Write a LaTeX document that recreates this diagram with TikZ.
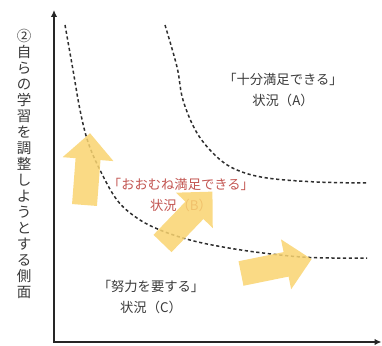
\documentclass[tikz,border=0pt]{standalone}
\usepackage{fontspec}
\setmainfont{Noto Sans CJK JP}
\usetikzlibrary{arrows.meta}
\definecolor{txt}{HTML}{3A3A3A}
\definecolor{redtxt}{HTML}{C25450}
\definecolor{yarr}{RGB}{249,212,112}
\definecolor{curve}{HTML}{2E2E2E}
\tikzset{
  axis/.style={line width=2.4pt, draw=black!85, {Latex[length=7pt,width=6.5pt]}-{Latex[length=7pt,width=6.5pt]}},
  bound/.style={draw=curve, line width=1.5pt, dash pattern=on 3.2pt off 2.6pt},
  lbl/.style={text=txt, font=\fontsize{13.3}{21}\selectfont, align=center, inner sep=0pt},
  yarrow/.pic={
    \fill[yarr, fill opacity=0.85] (0,-12.5) -- (46,-12.5) -- (46,-25.5) -- (72,0) -- (46,25.5) -- (46,12.5) -- (0,12.5) -- cycle;
  }
}
\begin{document}
\begin{tikzpicture}[x=1pt,y=-1pt]
\useasboundingbox (0,0) rectangle (382,345);
% axes
\coordinate (top) at (54,10);
\coordinate (origin) at (54,342);
\coordinate (right) at (381.5,342);
\draw[axis] (top) -- (origin) -- (right);
% vertical label
\node[text=txt, font=\fontsize{14.5}{16}\selectfont, align=center, inner sep=0pt] (ylabel) at (24,164)
  {②\\自\\ら\\の\\学\\習\\を\\調\\整\\し\\よ\\う\\と\\す\\る\\側\\面};
% boundary curves
\draw[bound] plot[smooth, tension=0.6] coordinates {(65,25) (73,70) (80,110) (88,142) (100,170) (117,200) (137,218) (160,230) (190,240) (223,247) (263,253) (310,257.5) (367,258)};
\draw[bound] plot[smooth, tension=0.6] coordinates {(165,25) (177,67) (183,100) (197,133) (217,157) (237,170) (267,178) (317,182) (367,183)};
% texts
\node[lbl] (A) at (283,90) {「十分満足できる」\\状況（A）};
\node[lbl, text=redtxt] (B) at (181,195) {「おおむね満足できる」\\状況（B）};
\node[lbl] (C) at (151,297) {「努力を要する」\\状況（C）};
% yellow arrows
\coordinate (t1) at (84.5,205);
\coordinate (t2) at (162.5,243.5);
\coordinate (t3) at (241,273.5);
\path (t1) pic[rotate=85.6] {yarrow};
\path (t2) pic[rotate=46.1] {yarrow};
\path (t3) pic[rotate=11.5] {yarrow};
\end{tikzpicture}
\end{document}
